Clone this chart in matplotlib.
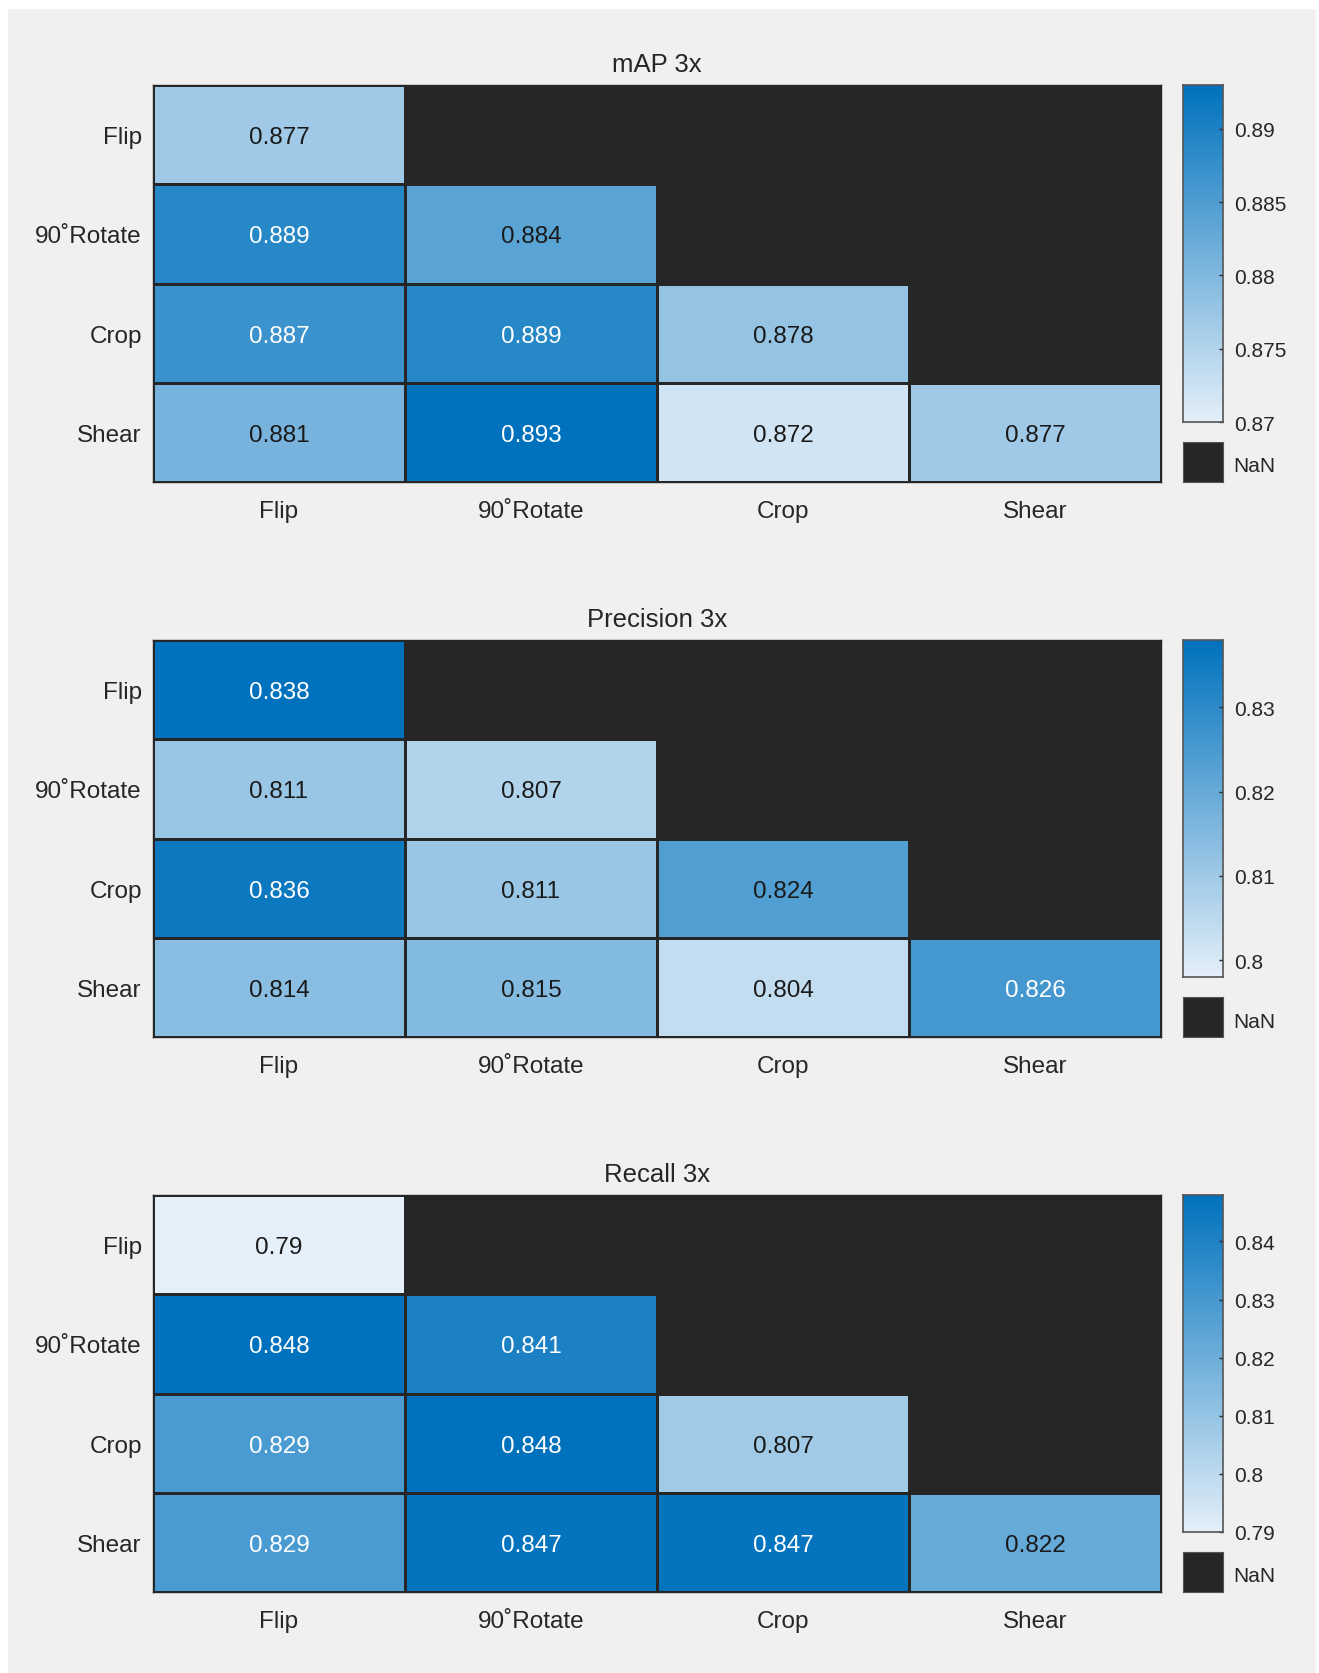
import matplotlib
matplotlib.use("Agg")
import matplotlib.pyplot as plt
import numpy as np
from matplotlib.colors import LinearSegmentedColormap
from matplotlib.patches import Rectangle

plt.rcParams['font.family'] = ['Liberation Sans', 'DejaVu Sans']

W, H = 1319, 1674

labels = ["Flip", "90\u02daRotate", "Crop", "Shear"]
titles = ["mAP 3x", "Precision 3x", "Recall 3x"]
nan = np.nan

map_vals = [[0.877, nan, nan, nan],
            [0.889, 0.884, nan, nan],
            [0.887, 0.889, 0.878, nan],
            [0.881, 0.893, 0.872, 0.877]]
precision_vals = [[0.838, nan, nan, nan],
                  [0.811, 0.807, nan, nan],
                  [0.836, 0.811, 0.824, nan],
                  [0.814, 0.815, 0.804, 0.826]]
recall_vals = [[0.79, nan, nan, nan],
               [0.848, 0.841, nan, nan],
               [0.829, 0.848, 0.807, nan],
               [0.829, 0.847, 0.847, 0.822]]

# colour limits
clims = [(0.870, 0.893), (0.798, 0.838), (0.790, 0.848)]
cbar_ticks = [[0.87, 0.875, 0.88, 0.885, 0.89],
              [0.80, 0.81, 0.82, 0.83],
              [0.79, 0.80, 0.81, 0.82, 0.83, 0.84]]
cbar_ticklabels = [["0.87", "0.875", "0.88", "0.885", "0.89"],
                   ["0.8", "0.81", "0.82", "0.83"],
                   ["0.79", "0.8", "0.81", "0.82", "0.83", "0.84"]]

cmap = LinearSegmentedColormap.from_list("mblue", ["#E4EFF9", "#0072BD"])
cmap.set_bad("#262626")
DARK = "#262626"


def box(x0, y0, x1, y1):
    # pixel box (top-left origin) -> figure fraction
    return [x0 / W, 1 - y1 / H, (x1 - x0) / W, (y1 - y0) / H]


fig = plt.figure(figsize=(W / 100, H / 100), dpi=100)
fig.patch.set_facecolor("white")
fig.add_artist(Rectangle((8 / W, 0), (1316 - 8) / W, 1 - 10 / H,
                         transform=fig.transFigure, facecolor="#F0F0F0",
                         edgecolor="none", zorder=-10))

tops = [86, 641, 1196]
hm_h = 397
left, right = 153, 1161

for k, vals in enumerate([map_vals, precision_vals, recall_vals]):
    data = np.ma.masked_invalid(np.array(vals))
    vmin, vmax = clims[k]
    top = tops[k]

    ax = fig.add_axes(box(left, top, right, top + hm_h))
    ax.set_facecolor(DARK)
    ax.pcolormesh(np.arange(5), np.arange(5), data, cmap=cmap, vmin=vmin, vmax=vmax,
                  edgecolors=DARK, linewidth=0.8)
    ax.set_xlim(0, 4)
    ax.set_ylim(4, 0)
    for s in ax.spines.values():
        s.set_color(DARK)
        s.set_linewidth(1.0)

    for i in range(4):
        for j in range(4):
            v = vals[i][j]
            if np.isnan(v):
                continue
            t = (v - vmin) / (vmax - vmin)
            ax.text(j + 0.5, i + 0.5, f"{v:g}", ha="center", va="center_baseline",
                    fontsize=17.5, color="white" if t > 0.66 else "#1a1a1a")

    ax.set_xticks(np.arange(4) + 0.5)
    ax.set_xticklabels(labels)
    ax.set_yticks(np.arange(4) + 0.5)
    ax.set_yticklabels(labels)
    ax.tick_params(axis="x", length=0, pad=13, labelsize=17.5, labelcolor=DARK)
    ax.tick_params(axis="y", length=0, pad=8, labelsize=17.5, labelcolor=DARK)
    for lab in ax.get_yticklabels():
        lab.set_verticalalignment("center_baseline")

    fig.text((left + right) / 2 / W, 1 - (top - 21) / H, titles[k],
             ha="center", va="center", fontsize=18.5, color=DARK)

    # colorbar
    cax = fig.add_axes(box(1183, top, 1223, top + 337))
    grad = np.linspace(vmin, vmax, 256).reshape(-1, 1)
    cax.imshow(grad, cmap=cmap, vmin=vmin, vmax=vmax, aspect="auto",
               origin="lower", extent=[0, 1, vmin, vmax])
    cax.set_xlim(0, 1)
    cax.set_ylim(vmin, vmax)
    cax.set_xticks([])
    cax.yaxis.tick_right()
    cax.set_yticks(cbar_ticks[k])
    cax.set_yticklabels(cbar_ticklabels[k])
    cax.tick_params(axis="y", direction="in", length=3, width=1, color=DARK,
                    pad=8, labelsize=15, labelcolor=DARK)
    for lab in cax.get_yticklabels():
        lab.set_verticalalignment("center_baseline")
    for s in cax.spines.values():
        s.set_color("#555555")
        s.set_linewidth(1.2)

    # NaN swatch
    nax = fig.add_axes(box(1183, top + 357, 1223, top + 397))
    nax.set_facecolor(DARK)
    nax.set_xticks([])
    nax.set_yticks([])
    for s in nax.spines.values():
        s.set_color("#555555")
    fig.text(1233 / W, 1 - (top + 381) / H, "NaN", ha="left", va="center",
             fontsize=15, color=DARK)

fig.savefig("out.png", dpi=100, facecolor=fig.get_facecolor())
